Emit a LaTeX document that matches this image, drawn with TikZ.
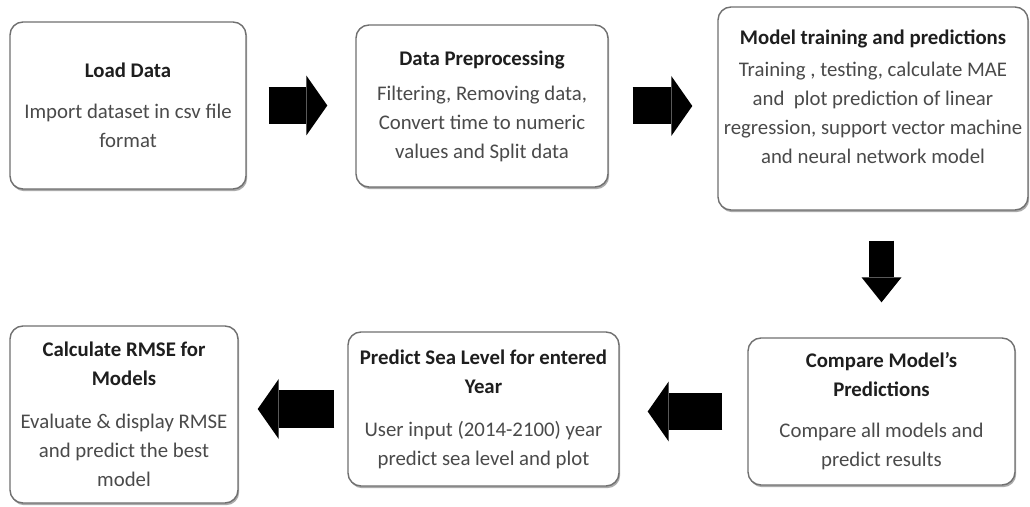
\documentclass[tikz,border=0pt]{standalone}
\usepackage{fontspec}
\setmainfont{Carlito}
\usetikzlibrary{arrows.meta,shadows}
\definecolor{boxline}{HTML}{707070}
\definecolor{titlecol}{HTML}{1E1E1E}
\definecolor{bodycol}{HTML}{4A4A4A}
\newcommand{\ttl}[1]{{\bfseries\color{titlecol}#1}}
\begin{document}
\begin{tikzpicture}[x=1pt,y=1pt,
  stepbox/.style={draw=boxline, line width=1.4pt, rounded corners=13pt, fill=white,
    drop shadow={shadow xshift=1.2pt, shadow yshift=-2.2pt, fill=black!60, opacity=0.55},
    align=center, inner sep=0pt, text=bodycol,
    font=\fontsize{20.8}{29}\selectfont},
  harrow/.style={line width=37pt, black, -{Triangle[length=21pt,width=60pt,line width=0pt]}},
  varrow/.style={line width=25pt, black, -{Triangle[length=25pt,width=40pt,line width=0pt]}}
]
\useasboundingbox (0,0) rectangle (1030,506);
\fill[white] (0,0) rectangle (1030,506);

\node[stepbox, minimum width=236pt, minimum height=167pt] (b1) at (128,400.5)
  {\ttl{Load Data}\\[12pt]Import dataset in csv file\\format};
\node[stepbox, minimum width=252pt, minimum height=162pt] (b2) at (482,400)
  {\ttl{Data Preprocessing}\\[6pt]Filtering, Removing data,\\Convert time to numeric\\values and Split data};
\node[stepbox, minimum width=310pt, minimum height=203pt] (b3) at (873,397.5)
  {\ttl{Model training and predictions}\\[3pt]Training , testing, calculate MAE\\and\ \ plot prediction of linear\\regression, support vector machine\\and neural network model\\[-5pt]\mbox{}};
\node[stepbox, minimum width=267pt, minimum height=147pt] (b6) at (881.5,94.5)
  {\ttl{Compare Model’s}\\\ttl{Predictions}\\[12pt]Compare all models and\\predict results};
\node[stepbox, minimum width=271pt, minimum height=154pt] (b5) at (483.5,97)
  {\ttl{Predict Sea Level for entered}\\\ttl{Year}\\[14pt]User input (2014-2100) year\\predict sea level and plot};
\node[stepbox, minimum width=228pt, minimum height=177pt] (b4) at (124,91.5)
  {\ttl{Calculate RMSE for}\\\ttl{Models}\\[14pt]Evaluate \& display RMSE\\and predict the best\\model};

\draw[harrow, shorten <=22pt, shorten >=28pt] (b1.east) -- (b1.east -| b2.west);
\draw[harrow, shorten <=24pt, shorten >=25pt] (b2.east) -- (b2.east -| b3.west);
\draw[varrow, shorten <=30pt, shorten >=35pt] (b6.north |- b3.south) -- (b6.north);
\draw[harrow, shorten <=25pt, shorten >=28pt] (b6.west) -- (b6.west -| b5.east);
\draw[harrow, shorten <=13pt, shorten >=19pt] (b5.west) -- (b5.west -| b4.east);
\end{tikzpicture}
\end{document}
